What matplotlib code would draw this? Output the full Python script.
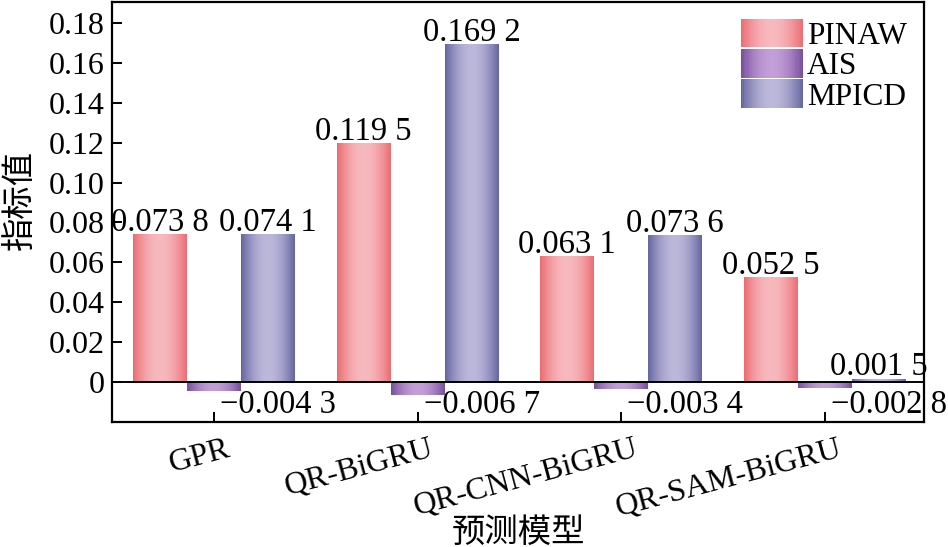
import numpy as np
import matplotlib
matplotlib.use("Agg")
import matplotlib.pyplot as plt
from matplotlib.patches import Rectangle
from matplotlib.legend_handler import HandlerBase
from matplotlib.transforms import ScaledTranslation

plt.rcParams['font.family'] = ['Liberation Serif', 'Noto Sans CJK SC']
plt.rcParams['axes.unicode_minus'] = True

# ---------------- data ----------------
categories = ["GPR", "QR-BiGRU", "QR-CNN-BiGRU", "QR-SAM-BiGRU"]
series_names = ["PINAW", "AIS", "MPICD"]
pinaw = [0.0738, 0.1195, 0.0631, 0.0525]
ais = [-0.0043, -0.0067, -0.0034, -0.0028]
mpicd = [0.0741, 0.1692, 0.0736, 0.0015]
y_ticks = [0, 0.02, 0.04, 0.06, 0.08, 0.10, 0.12, 0.14, 0.16, 0.18]

# ---------------- style ----------------
edge_cols = [(235/255, 108/255, 114/255), (118/255, 78/255, 158/255), (100/255, 100/255, 160/255)]
mid_cols = [(247/255, 185/255, 190/255), (195/255, 158/255, 215/255), (188/255, 184/255, 218/255)]
FS_TICK = 23
FS_BAR = 23.5
FS_LEG = 22.5
FS_CJK = 24

def gradient_row(edge, mid, n=64):
    t = np.linspace(0, 1, n)
    f = np.sin(np.pi * t) ** 0.9
    e = np.array(edge); m = np.array(mid)
    return e[None, :] + (m - e)[None, :] * f[:, None]

class GradientHandler(HandlerBase):
    def __init__(self, edge, mid, **kw):
        super().__init__(**kw)
        self.edge, self.mid = edge, mid
    def create_artists(self, legend, orig_handle, xdescent, ydescent, width, height, fontsize, trans):
        cols = gradient_row(self.edge, self.mid, 40)
        n = len(cols)
        arts = []
        for i, c in enumerate(cols):
            r = Rectangle((-xdescent + width * i / n, -ydescent - 0.1 * height), width / n * 1.05, height * 1.2,
                          facecolor=c, edgecolor='none', transform=trans)
            arts.append(r)
        return arts

fig = plt.figure(figsize=(9.48, 5.47), dpi=100)
ax = fig.add_axes([0.1181, 0.2285, 0.9747 - 0.1181, 0.9963 - 0.2285])

x = np.arange(len(categories))
w = 0.265
all_series = [pinaw, ais, mpicd]
bar_groups = []
for k, vals in enumerate(all_series):
    bars = ax.bar(x + (k - 1) * w, vals, width=w, color='none', edgecolor='none', label=series_names[k])
    bar_groups.append(bars)
    grad = gradient_row(edge_cols[k], mid_cols[k], 64)[None, :, :]
    for b in bars:
        x0 = b.get_x(); bw = b.get_width(); y0 = b.get_y(); h = b.get_height()
        ax.imshow(grad, extent=[x0, x0 + bw, y0, y0 + h], aspect='auto', zorder=2, interpolation='bilinear')

ax.set_xlim(-0.5, 3.486)
ax.set_ylim(-0.0201, 0.1905)
ax.axhline(0, color='black', lw=1.4, zorder=3)

def fmt(v):
    s = f"{abs(v):.4f}"
    s = s[:-1] + " " + s[-1]
    return ("\u2212" + s) if v < 0 else s

for k, bars in enumerate(bar_groups):
    for i, b in enumerate(bars):
        v = all_series[k][i]
        if v >= 0:
            ax.text(b.get_x() + b.get_width() / 2, v + 0.0018, fmt(v), ha='center', va='baseline',
                    fontsize=FS_BAR, zorder=4)
        else:
            ax.text(x[i] + 0.03, -0.0157, fmt(v), ha='left', va='baseline', fontsize=FS_BAR, zorder=4,
                    clip_on=False)

# axes styling
for sp in ax.spines.values():
    sp.set_linewidth(1.6)
ax.set_yticks(y_ticks)
ax.set_yticklabels(["0" if t == 0 else f"{t:.2f}" for t in y_ticks])
ax.set_xticks(x)
ax.set_xticklabels(categories, rotation=15, ha='right', va='top', rotation_mode='anchor')
ax.tick_params(axis='both', direction='in', length=7, width=1.4, labelsize=FS_TICK, top=False, right=False)
ax.tick_params(axis='y', pad=5)
ax.tick_params(axis='x', pad=9)
off = ScaledTranslation(12 / 100, 0, fig.dpi_scale_trans)
for lab in ax.get_xticklabels():
    lab.set_transform(lab.get_transform() + off)

ax.set_ylabel("指标值", fontsize=FS_CJK)
ax.yaxis.set_label_coords(-0.092, 0.529)
ax.set_xlabel("预测模型", fontsize=FS_CJK)
ax.xaxis.set_label_coords(0.5, -0.228)

handles = [Rectangle((0, 0), 1, 1) for _ in series_names]
hmap = {h: GradientHandler(edge_cols[k], mid_cols[k]) for k, h in enumerate(handles)}
leg = ax.legend(handles, series_names, handler_map=hmap, loc='upper right', bbox_to_anchor=(0.979, 0.955),
                frameon=False, fontsize=FS_LEG, handlelength=2.0, handleheight=0.8, labelspacing=0.02,
                handletextpad=0.12, borderpad=0, borderaxespad=0)

fig.savefig("out.png", dpi=100)
